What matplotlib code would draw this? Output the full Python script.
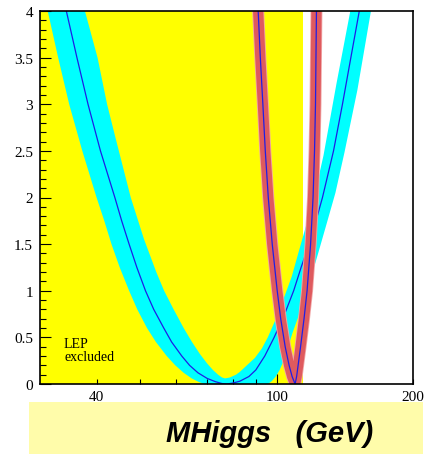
import matplotlib
matplotlib.use('Agg')
import matplotlib.pyplot as plt
from matplotlib.patches import Polygon, Rectangle
from matplotlib.ticker import MultipleLocator

plt.rcParams['font.family'] = ['Liberation Serif', 'DejaVu Serif']

# ---------------- data ----------------
lep_limit = 114.4

# lower envelope of the cyan (theory) band, left top -> right top
band_lo_mass = [31.2, 32.9, 34.8, 37.2, 40.0, 41.6, 43.15, 45.0, 47.2, 49.2, 51.7, 54.1,
                57.15, 59.7, 62.3, 64.9, 67.4, 69.3,
                95.55, 97.5, 99.5, 101.5, 103.6, 105.7, 108.4, 111.2, 116.7, 123.1,
                129.45, 134.8, 141.1, 150.7, 161.5]
band_lo_chi2 = [4.0, 3.5, 3.0, 2.5, 2.0, 1.75, 1.5, 1.25, 1.0, 0.8, 0.6, 0.45,
                0.3, 0.2, 0.12, 0.06, 0.02, 0.0,
                0.0, 0.03, 0.08, 0.15, 0.25, 0.38, 0.55, 0.70, 1.0, 1.38,
                1.75, 2.05, 2.48, 3.15, 4.0]
# upper envelope of the cyan band, left top -> right top
band_hi_mass = [37.7, 40.2, 42.2, 44.1, 47.6, 50.9, 54.2, 56.4, 59.2, 62.3, 65.0, 67.7,
                70.2, 72.3, 74.2, 75.7, 76.9, 78.8, 81.3, 82.9, 85.9, 89.5, 92.7, 95.55,
                99.2, 102.4, 107.9, 112.3, 120.6, 126.85, 135.5, 145.4]
band_hi_chi2 = [4.0, 3.5, 3.0, 2.63, 2.0, 1.555, 1.2, 1.0, 0.8, 0.6, 0.45, 0.32,
                0.22, 0.15, 0.10, 0.07, 0.06, 0.07, 0.10, 0.13, 0.2, 0.28, 0.38, 0.50,
                0.68, 0.85, 1.15, 1.45, 1.98, 2.45, 3.22, 4.0]
# central curve of the wide band
fit_mass = [34.3, 36.2, 38.3, 40.8, 43.9, 45.45, 47.2, 49.1, 51.3, 53.5, 56.3, 58.6, 61.7,
            64.2, 67.0, 70.2, 73.2, 75.7, 77.6,
            80.0, 82.9, 86.8, 89.9, 94.1, 98.7, 104.1, 109.0, 113.2, 117.9, 122.1,
            126.2, 133.5, 139.7, 145.8, 152.2]
fit_chi2 = [4.0, 3.5, 3.0, 2.5, 2.0, 1.75, 1.5, 1.25, 1.0, 0.8, 0.6, 0.45, 0.3,
            0.2, 0.12, 0.06, 0.025, 0.005, 0.0,
            0.01, 0.03, 0.08, 0.15, 0.3, 0.5, 0.75, 1.0, 1.25, 1.5, 1.75,
            2.0, 2.5, 3.0, 3.5, 4.0]
# narrow (red) curve
alt_mass = [91.0, 92.0, 93.2, 94.35, 95.8, 97.75, 100.25, 102.05, 104.4, 106.5, 108.15, 109.8,
            110.65, 111.5, 112.9, 114.9, 116.7, 118.8, 120.3, 121.2, 121.8, 122.1, 122.4]
alt_chi2 = [4.0, 3.5, 3.0, 2.5, 2.0, 1.5, 1.0, 0.7, 0.4, 0.2, 0.08, 0.0,
            0.08, 0.2, 0.4, 0.7, 1.0, 1.5, 2.0, 2.5, 3.0, 3.5, 4.0]

xtick_major = [100]
xtick_major_labels = ['100']
xtick_minor = [40, 50, 60, 70, 80, 90, 200]
xtick_minor_labels = ['40', '', '', '', '', '', '200']
ytick_vals = [0, 0.5, 1, 1.5, 2, 2.5, 3, 3.5, 4]
ytick_labels = ['0', '0.5', '1', '1.5', '2', '2.5', '3', '3.5', '4']

# ---------------- figure ----------------
W, H = 427, 456
fig = plt.figure(figsize=(W / 100, H / 100), dpi=100)
fig.patch.set_facecolor('white')

# bottom label box
fig.patches.append(Rectangle((29 / W, 1 / H), 394 / W, 52 / H, transform=fig.transFigure,
                             facecolor='#FFFCAA', edgecolor='none', zorder=0))
fig.text(0.632, 0.049, 'MHiggs   (GeV)', fontsize=21, fontweight='bold', fontstyle='italic',
         family=['Liberation Sans', 'DejaVu Sans'], ha='center', va='center', zorder=2)

ax = fig.add_axes([40 / W, 71 / H, 373 / W, 373 / H])
ax.set_xscale('log')
ax.set_xlim(30, 200)
ax.set_ylim(0, 4)

ax.axvspan(30, lep_limit, color='#FFFF00', lw=0, zorder=0)

verts = list(zip(band_lo_mass, band_lo_chi2)) + list(zip(band_hi_mass[::-1], band_hi_chi2[::-1]))
ax.add_patch(Polygon(verts, closed=True, facecolor='#00FFFF', edgecolor='none', zorder=1))
ax.plot(fit_mass, fit_chi2, color='#1E1EE6', lw=0.9, zorder=2, solid_joinstyle='round')

ax.plot(alt_mass, alt_chi2, color='#F2A8A8', lw=8.6, zorder=3, solid_joinstyle='round',
        solid_capstyle='butt')
ax.plot(alt_mass, alt_chi2, color='#DF5A5E', lw=7.4, zorder=3, solid_joinstyle='round',
        solid_capstyle='butt')
ax.plot(alt_mass, alt_chi2, color='#1E1EE6', lw=0.9, zorder=4, solid_joinstyle='round')

ax.text(33.9, 0.23, 'LEP\nexcluded', fontsize=10, ha='left', va='bottom', linespacing=0.95,
        zorder=5)

ax.set_xticks(xtick_major, labels=xtick_major_labels)
ax.set_xticks(xtick_minor, labels=xtick_minor_labels, minor=True)
ax.set_yticks(ytick_vals, labels=ytick_labels)
ax.yaxis.set_minor_locator(MultipleLocator(0.1))

ax.tick_params(axis='x', which='major', direction='in', length=7, width=0.8, pad=4.5,
               labelsize=11, top=False)
ax.tick_params(axis='x', which='minor', direction='in', length=3.5, width=0.8, pad=4.5,
               labelsize=11, top=False)
ax.tick_params(axis='y', which='major', direction='in', length=8, width=0.8, pad=5,
               labelsize=11, right=False)
ax.tick_params(axis='y', which='minor', direction='in', length=4.3, width=0.8, right=False)

for s in ax.spines.values():
    s.set_linewidth(1.2)
    s.set_color('black')
    s.set_zorder(6)

fig.savefig('out.png', dpi=100)
